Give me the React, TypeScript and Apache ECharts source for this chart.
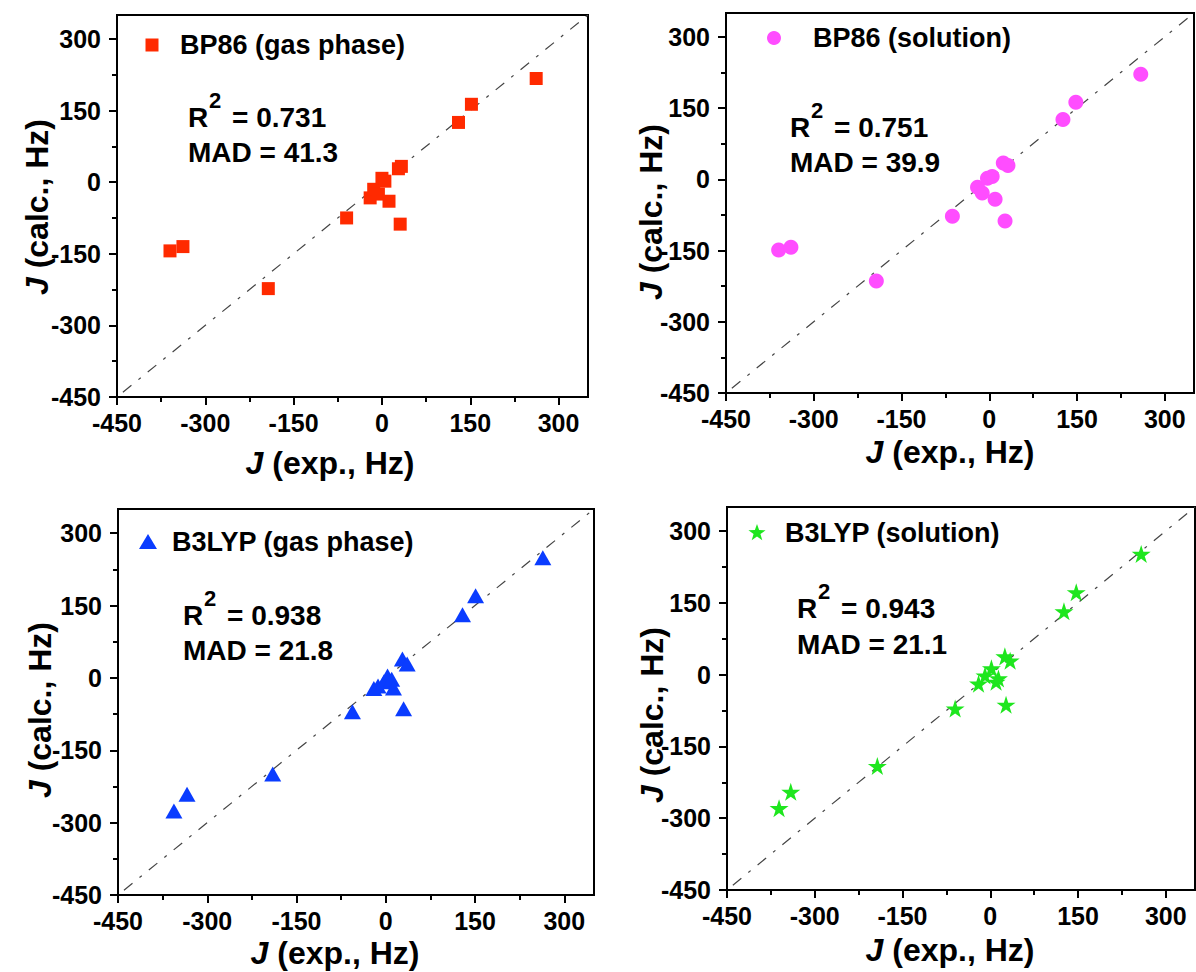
import React, { useEffect, useRef } from "react";
import * as echarts from "echarts";

// ---------- data ----------
const majorTicks = [-450, -300, -150, 0, 150, 300];
const minorTicks = [-375, -225, -75, 75, 225];
const diagX = [-440, 350];

const bp86GasX = [-360, -338, -193, -60, -20, -14, -6, 0, 5, 12, 28, 33, 31, 130, 152, 262];
const bp86GasY = [-144, -135, -223, -75, -33, -15, -25, 8, 2, -40, 28, 33, -88, 125, 163, 217];

const bp86SolX = [-360, -339, -193, -63, -20, -12, -3, 5, 10, 24, 32, 27, 126, 148, 259];
const bp86SolY = [-149, -143, -214, -78, -17, -29, 2, 6, -42, 34, 29, -88, 126, 162, 221];

const b3lypGasX = [-356, -334, -190, -56, -20, -13, -3, 3, 10, 13, 28, 36, 30, 129, 151, 264];
const b3lypGasY = [-276, -241, -199, -70, -22, -17, -8, 4, -3, -21, 39, 29, -64, 131, 170, 249];

const b3lypSolX = [-361, -341, -193, -60, -20, -9, 2, 10, 14, 25, 34, 27, 126, 147, 258];
const b3lypSolY = [-279, -245, -191, -71, -19, -2, 13, -15, -8, 38, 29, -63, 132, 172, 252];

const seriesNames = ["BP86 (gas phase)", "BP86 (solution)", "B3LYP (gas phase)", "B3LYP (solution)"];
const r2Values = ["0.731", "0.751", "0.938", "0.943"];
const madValues = ["41.3", "39.9", "21.8", "21.1"];
const xTitle = " (exp., Hz)";
const yTitle = " (calc., Hz)";

const colors = ["#ff2a00", "#ff4dff", "#0a3cff", "#1ee61e"];
const starPath =
  "path://M50,0 L61,35 L98,35 L68,57 L79,91 L50,70 L21,91 L32,57 L2,35 L39,35 Z";
const symbols = ["rect", "circle", "triangle", starPath];
const symbolSizes = [13, 15, [17, 15], 19];

const FONT = "'Liberation Sans', Arial, sans-serif";

const grids = [
  { left: 117, top: 15, width: 471, height: 382 },
  { left: 726, top: 13, width: 468, height: 380 },
  { left: 118, top: 509, width: 476, height: 386 },
  { left: 727, top: 507, width: 468, height: 383 },
];

function zip(xs: number[], ys: number[]) {
  return xs.map((x, i) => [x, ys[i]]);
}

const panelData = [
  zip(bp86GasX, bp86GasY),
  zip(bp86SolX, bp86SolY),
  zip(b3lypGasX, b3lypGasY),
  zip(b3lypSolX, b3lypSolY),
];

// layout of annotation texts
const legendPos = [
  { mx: 152, my: 45, tx: 180 },
  { mx: 774, my: 38, tx: 813 },
  { mx: 148, my: 542, tx: 172 },
  { mx: 757, my: 533, tx: 785 },
];
const annoPos = [
  { x: 188, y1: 117, y2: 152 },
  { x: 790, y1: 127, y2: 162 },
  { x: 183, y1: 615, y2: 650 },
  { x: 797, y1: 608, y2: 644 },
];
const xTitlePos = [
  { x: 330, y: 463 },
  { x: 950, y: 452 },
  { x: 335, y: 953 },
  { x: 950, y: 950 },
];
const yTitlePos = [
  { x: 37, y: 207 },
  { x: 651, y: 212 },
  { x: 40, y: 710 },
  { x: 652, y: 715 },
];

function starPoints(cx: number, cy: number, r: number) {
  const pts: number[][] = [];
  for (let i = 0; i < 10; i++) {
    const rr = i % 2 === 0 ? r : r * 0.4;
    const a = -Math.PI / 2 + (i * Math.PI) / 5;
    pts.push([cx + rr * Math.cos(a), cy + rr * Math.sin(a)]);
  }
  return pts;
}

export default function App() {
  const ref = useRef<HTMLDivElement>(null);
  useEffect(() => {
    if (!ref.current) return;
    const chart = echarts.init(ref.current, null, { renderer: "svg" });

    const xAxis: any[] = [];
    const yAxis: any[] = [];
    const series: any[] = [];
    const graphic: any[] = [];

    const labelStyle = {
      fontSize: 25,
      fontWeight: "bold",
      color: "#000",
      fontFamily: FONT,
    };

    grids.forEach((g, i) => {
      xAxis.push({
        type: "value",
        gridIndex: i,
        min: -450,
        max: 350,
        position: "bottom",
        axisLine: { show: true, onZero: false, lineStyle: { color: "#000", width: 2 } },
        axisTick: { show: true, customValues: majorTicks, length: 8, lineStyle: { color: "#000", width: 2 } },
        axisLabel: { ...labelStyle, customValues: majorTicks, margin: 13 },
        splitLine: { show: false },
      });
      xAxis.push({
        type: "value",
        gridIndex: i,
        min: -450,
        max: 350,
        position: "bottom",
        axisLine: { show: false, onZero: false },
        axisTick: { show: true, customValues: minorTicks, length: 5, lineStyle: { color: "#000", width: 2 } },
        axisLabel: { show: false },
        splitLine: { show: false },
      });
      yAxis.push({
        type: "value",
        gridIndex: i,
        min: -450,
        max: 350,
        position: "left",
        axisLine: { show: true, onZero: false, lineStyle: { color: "#000", width: 2 } },
        axisTick: { show: true, customValues: majorTicks, length: 8, lineStyle: { color: "#000", width: 2 } },
        axisLabel: { ...labelStyle, customValues: majorTicks, margin: 16 },
        splitLine: { show: false },
      });
      yAxis.push({
        type: "value",
        gridIndex: i,
        min: -450,
        max: 350,
        position: "left",
        axisLine: { show: false, onZero: false },
        axisTick: { show: true, customValues: minorTicks, length: 5, lineStyle: { color: "#000", width: 2 } },
        axisLabel: { show: false },
        splitLine: { show: false },
      });

      series.push({
        type: "line",
        xAxisIndex: 2 * i,
        yAxisIndex: 2 * i,
        data: diagX.map((v) => [v, v]),
        symbol: "none",
        silent: true,
        lineStyle: { color: "#444", width: 1.2, type: [11, 9, 3, 9] },
        z: 1,
      });
      series.push({
        type: "scatter",
        name: seriesNames[i],
        xAxisIndex: 2 * i,
        yAxisIndex: 2 * i,
        data: panelData[i],
        symbol: symbols[i],
        symbolSize: symbolSizes[i],
        symbolKeepAspect: true,
        itemStyle: { color: colors[i], opacity: 1 },
        z: 2,
      });

      // legend marker + text
      const lp = legendPos[i];
      if (i === 0) {
        graphic.push({ type: "rect", shape: { x: lp.mx - 6.5, y: lp.my - 6.5, width: 13, height: 13 }, style: { fill: colors[i] } });
      } else if (i === 1) {
        graphic.push({ type: "circle", shape: { cx: lp.mx, cy: lp.my, r: 7 }, style: { fill: colors[i] } });
      } else if (i === 2) {
        graphic.push({ type: "polygon", shape: { points: [[lp.mx, lp.my - 8], [lp.mx + 9, lp.my + 7], [lp.mx - 9, lp.my + 7]] }, style: { fill: colors[i] } });
      } else {
        graphic.push({ type: "polygon", shape: { points: starPoints(lp.mx, lp.my, 9) }, style: { fill: colors[i] } });
      }
      graphic.push({
        type: "text",
        x: lp.tx,
        y: lp.my,
        style: { text: seriesNames[i], fontSize: 27, fontWeight: "bold", fontFamily: FONT, fill: "#000", align: "left", verticalAlign: "middle" },
      });

      // R^2 and MAD annotation
      const ap = annoPos[i];
      graphic.push({
        type: "text",
        x: ap.x,
        y: ap.y1,
        style: { text: "R", fontSize: 28, fontWeight: "bold", fontFamily: FONT, fill: "#000", align: "left", verticalAlign: "middle" },
      });
      graphic.push({
        type: "text",
        x: ap.x + 21,
        y: ap.y1 - 17,
        style: { text: "2", fontSize: 22, fontWeight: "bold", fontFamily: FONT, fill: "#000", align: "left", verticalAlign: "middle" },
      });
      graphic.push({
        type: "text",
        x: ap.x + 44,
        y: ap.y1,
        style: { text: "= " + r2Values[i], fontSize: 28, fontWeight: "bold", fontFamily: FONT, fill: "#000", align: "left", verticalAlign: "middle" },
      });
      graphic.push({
        type: "text",
        x: ap.x,
        y: ap.y2,
        style: { text: "MAD = " + madValues[i], fontSize: 28, fontWeight: "bold", fontFamily: FONT, fill: "#000", align: "left", verticalAlign: "middle" },
      });

      // axis titles
      const titleRich = {
        j: { fontSize: 32, fontWeight: "bold", fontStyle: "italic", fontFamily: FONT, fill: "#000" },
        t: { fontSize: 32, fontWeight: "bold", fontFamily: FONT, fill: "#000" },
      };
      const xp = xTitlePos[i];
      graphic.push({
        type: "text",
        x: xp.x,
        y: xp.y,
        style: { text: "{j|J}{t|" + xTitle + "}", rich: titleRich, align: "center", verticalAlign: "middle" },
      });
      const yp = yTitlePos[i];
      graphic.push({
        type: "text",
        x: yp.x,
        y: yp.y,
        rotation: Math.PI / 2,
        style: { text: "{j|J}{t|" + yTitle + "}", rich: titleRich, align: "center", verticalAlign: "middle" },
      });
    });

    chart.setOption({
      animation: false,
      backgroundColor: "#fff",
      grid: grids.map((g) => ({ ...g, show: true, borderColor: "#000", borderWidth: 2, backgroundColor: "transparent" })),
      xAxis,
      yAxis,
      series,
      graphic,
    });
    return () => chart.dispose();
  }, []);

  return (
    <div
      ref={ref}
      style={{ position: "absolute", left: 0, top: 0, width: 1196, height: 972 }}
    />
  );
}
